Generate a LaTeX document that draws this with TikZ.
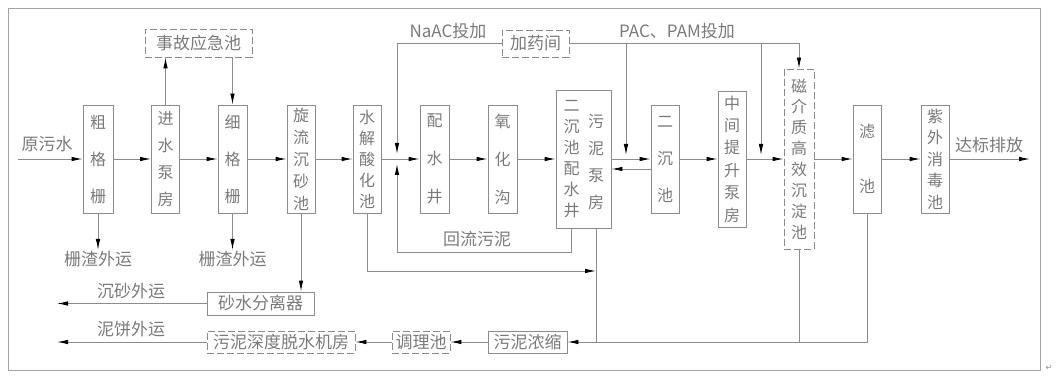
\documentclass[tikz,border=0pt]{standalone}
\usepackage{fontspec}
\newfontfamily\cjk{Noto Sans CJK SC}
\newfontfamily\dejavu{DejaVu Sans}
\usetikzlibrary{arrows.meta}
\definecolor{ln}{HTML}{8C8C8C}
\definecolor{tx}{HTML}{7A7A7A}
\newcommand\vf[1]{\cjk\fontsize{16}{#1}\selectfont}
\tikzset{
  box/.style={draw=ln, line width=0.9pt, inner sep=0pt, text=tx, align=center},
  dbox/.style={box, dash pattern=on 7pt off 3pt},
  lab/.style={text=tx, font=\cjk\fontsize{17}{17}\selectfont, inner sep=1pt},
  conn/.style={draw=ln, line width=0.9pt},
  arr/.style={conn, -{Latex[length=11pt,width=4.5pt,black]}},
}
\begin{document}
\begin{tikzpicture}[x=1pt,y=-1pt]
\useasboundingbox (0,0) rectangle (1057,382);
\draw[draw=ln!80, line width=0.9pt] (8,8) rectangle (1040,370);
\node[text=ln, font=\dejavu\fontsize{8}{8}\selectfont, inner sep=0pt] (ret) at (1049,368) {↵};

% main row
\node[box, minimum width=30, minimum height=108, font=\vf{37}] (cgs) at (98,159) {粗\\格\\栅};
\node[box, minimum width=28, minimum height=108, font=\vf{27}] (jsbf) at (165.5,159) {进\\水\\泵\\房};
\node[box, minimum width=29, minimum height=108, font=\vf{37}] (xgs) at (232.5,159) {细\\格\\栅};
\node[box, minimum width=28, minimum height=108, font=\vf{22}] (xlcs) at (301,159) {旋\\流\\沉\\砂\\池};
\node[box, minimum width=28, minimum height=108, font=\vf{21}] (sj) at (367,159) {水\\解\\酸\\化\\池};
\node[box, minimum width=29, minimum height=108, font=\vf{38}] (psj) at (434.5,159) {配\\水\\井};
\node[box, minimum width=29, minimum height=108, font=\vf{38}] (yhg) at (502.5,159) {氧\\化\\沟};
\node[box, minimum width=55, minimum height=138] (ecp) at (583.5,159) {};
\node[text=tx, inner sep=0pt, align=center, font=\vf{21}] (ecpL) at (571.5,159.5) {二\\沉\\池\\配\\水\\井};
\node[text=tx, inner sep=0pt, align=center, font=\vf{27}] (ecpR) at (596,162.5) {污\\泥\\泵\\房};
\node[box, minimum width=28, minimum height=108, font=\vf{37}] (ec) at (665,159) {二\\沉\\池};
\node[box, minimum width=28, minimum height=136, font=\vf{22.4}] (zj) at (732,159) {中\\间\\提\\升\\泵\\房};
\node[dbox, minimum width=30, minimum height=180, font=\vf{20.9}] (cjz) at (799,159) {磁\\介\\质\\高\\效\\沉\\淀\\池};
\node[box, minimum width=28, minimum height=108, font=\vf{55}] (lc) at (867,159) {滤\\池};
\node[box, minimum width=28, minimum height=108, font=\vf{21.5}] (zw) at (935,159) {紫\\外\\消\\毒\\池};

% inlet / outlet
\coordinate (in) at (18,159);
\coordinate (out) at (1030,159);
\node[lab] (ysw) at (47,144) {原污水};
\node[lab] (dbpf) at (989,145) {达标排放};
\draw[arr] (in) -- (cgs.west);
\draw[arr] (cgs.east) -- (jsbf.west);
\draw[arr] (jsbf.east) -- (xgs.west);
\draw[arr] (xgs.east) -- (xlcs.west);
\draw[arr] (xlcs.east) -- (sj.west);
\draw[arr] (sj.east) -- (psj.west);
\draw[arr] (psj.east) -- (yhg.west);
\draw[arr] (yhg.east) -- (ecp.west);
\draw[arr] (ecp.east) -- (ec.west);
\draw[arr] (ec.west |- 0,169) -- (ecp.east |- 0,169);
\draw[arr] (ec.east) -- (zj.west);
\draw[arr] (zj.east) -- (cjz.west);
\draw[arr] (cjz.east) -- (lc.west);
\draw[arr] (lc.east) -- (zw.west);
\draw[arr] (zw.east) -- (out);

% emergency pool
\node[dbox, minimum width=107, minimum height=28, font=\cjk\fontsize{17}{17}\selectfont] (sgyj) at (198.5,43) {事故应急池};
\draw[arr] (jsbf.north) -- (jsbf.north |- sgyj.south);
\draw[arr] (xgs.north |- sgyj.south) -- (xgs.north);

% screenings
\node[lab] (zz1) at (98,259) {栅渣外运};
\node[lab] (zz2) at (232.5,259) {栅渣外运};
\draw[arr] (cgs.south) -- (zz1.north);
\draw[arr] (xgs.south) -- (zz2.north);

% grit
\node[box, minimum width=107, minimum height=23, font=\cjk\fontsize{17}{17}\selectfont] (sfl) at (260.5,303.5) {砂水分离器};
\draw[arr] (xlcs.south) -- (xlcs.south |- sfl.north);
\coordinate (csout) at (57,303.5);
\node[lab] (cswy) at (131,291) {沉砂外运};
\draw[arr] (sfl.west) -- (csout);

% sludge line
\node[dbox, minimum width=148, minimum height=22, font=\cjk\fontsize{17}{17}\selectfont] (tsj) at (281,342) {污泥深度脱水机房};
\node[dbox, minimum width=58, minimum height=22, font=\cjk\fontsize{17}{17}\selectfont] (tlc) at (421,342) {调理池};
\node[box, minimum width=79, minimum height=22, font=\cjk\fontsize{17}{17}\selectfont] (wnns) at (527.5,342) {污泥浓缩};
\coordinate (nbout) at (57,342);
\node[lab] (nbwy) at (131,329) {泥饼外运};
\draw[arr] (tsj.west) -- (nbout);
\draw[arr] (tlc.west) -- (tsj.east);
\draw[arr] (wnns.west) -- (tlc.east);
\draw[arr] (lc.south) |- (wnns.east);
\draw[conn] (cjz.south) -- (cjz.south |- wnns.east);
\coordinate (pb) at (596,228);
\coordinate (pbj) at (596,342);
\draw[conn] (pb) -- (pbj);
\coordinate (sjj) at (596,271);
\draw[arr] (sj.south) |- (sjj);

% return sludge
\coordinate (hl0) at (571,228);
\coordinate (hl1) at (397,252);
\coordinate (hlt) at (397,164);
\draw[arr] (hl0) |- (hl1) -- (hlt);
\node[lab] (hlwn) at (477,239) {回流污泥};

% dosing
\node[dbox, minimum width=67, minimum height=27, font=\cjk\fontsize{17}{17}\selectfont] (jyj) at (535.5,43.5) {加药间};
\coordinate (nat) at (397,154);
\draw[arr] (jyj.west) -| (nat);
\node[lab, font=\cjk\fontsize{17}{17}\selectfont] (naac) at (448,31) {NaAC投加};
\node[lab] (pac) at (677,31) {PAC、PAM投加};
\draw[arr] (jyj.east) -| (cjz.north);
\coordinate (p1) at (626,43.5);
\coordinate (p1e) at (626,155);
\draw[arr] (p1) -- (p1e);
\coordinate (p2) at (761,43.5);
\coordinate (p2e) at (761,155);
\draw[arr] (p2) -- (p2e);
\end{tikzpicture}
\end{document}
